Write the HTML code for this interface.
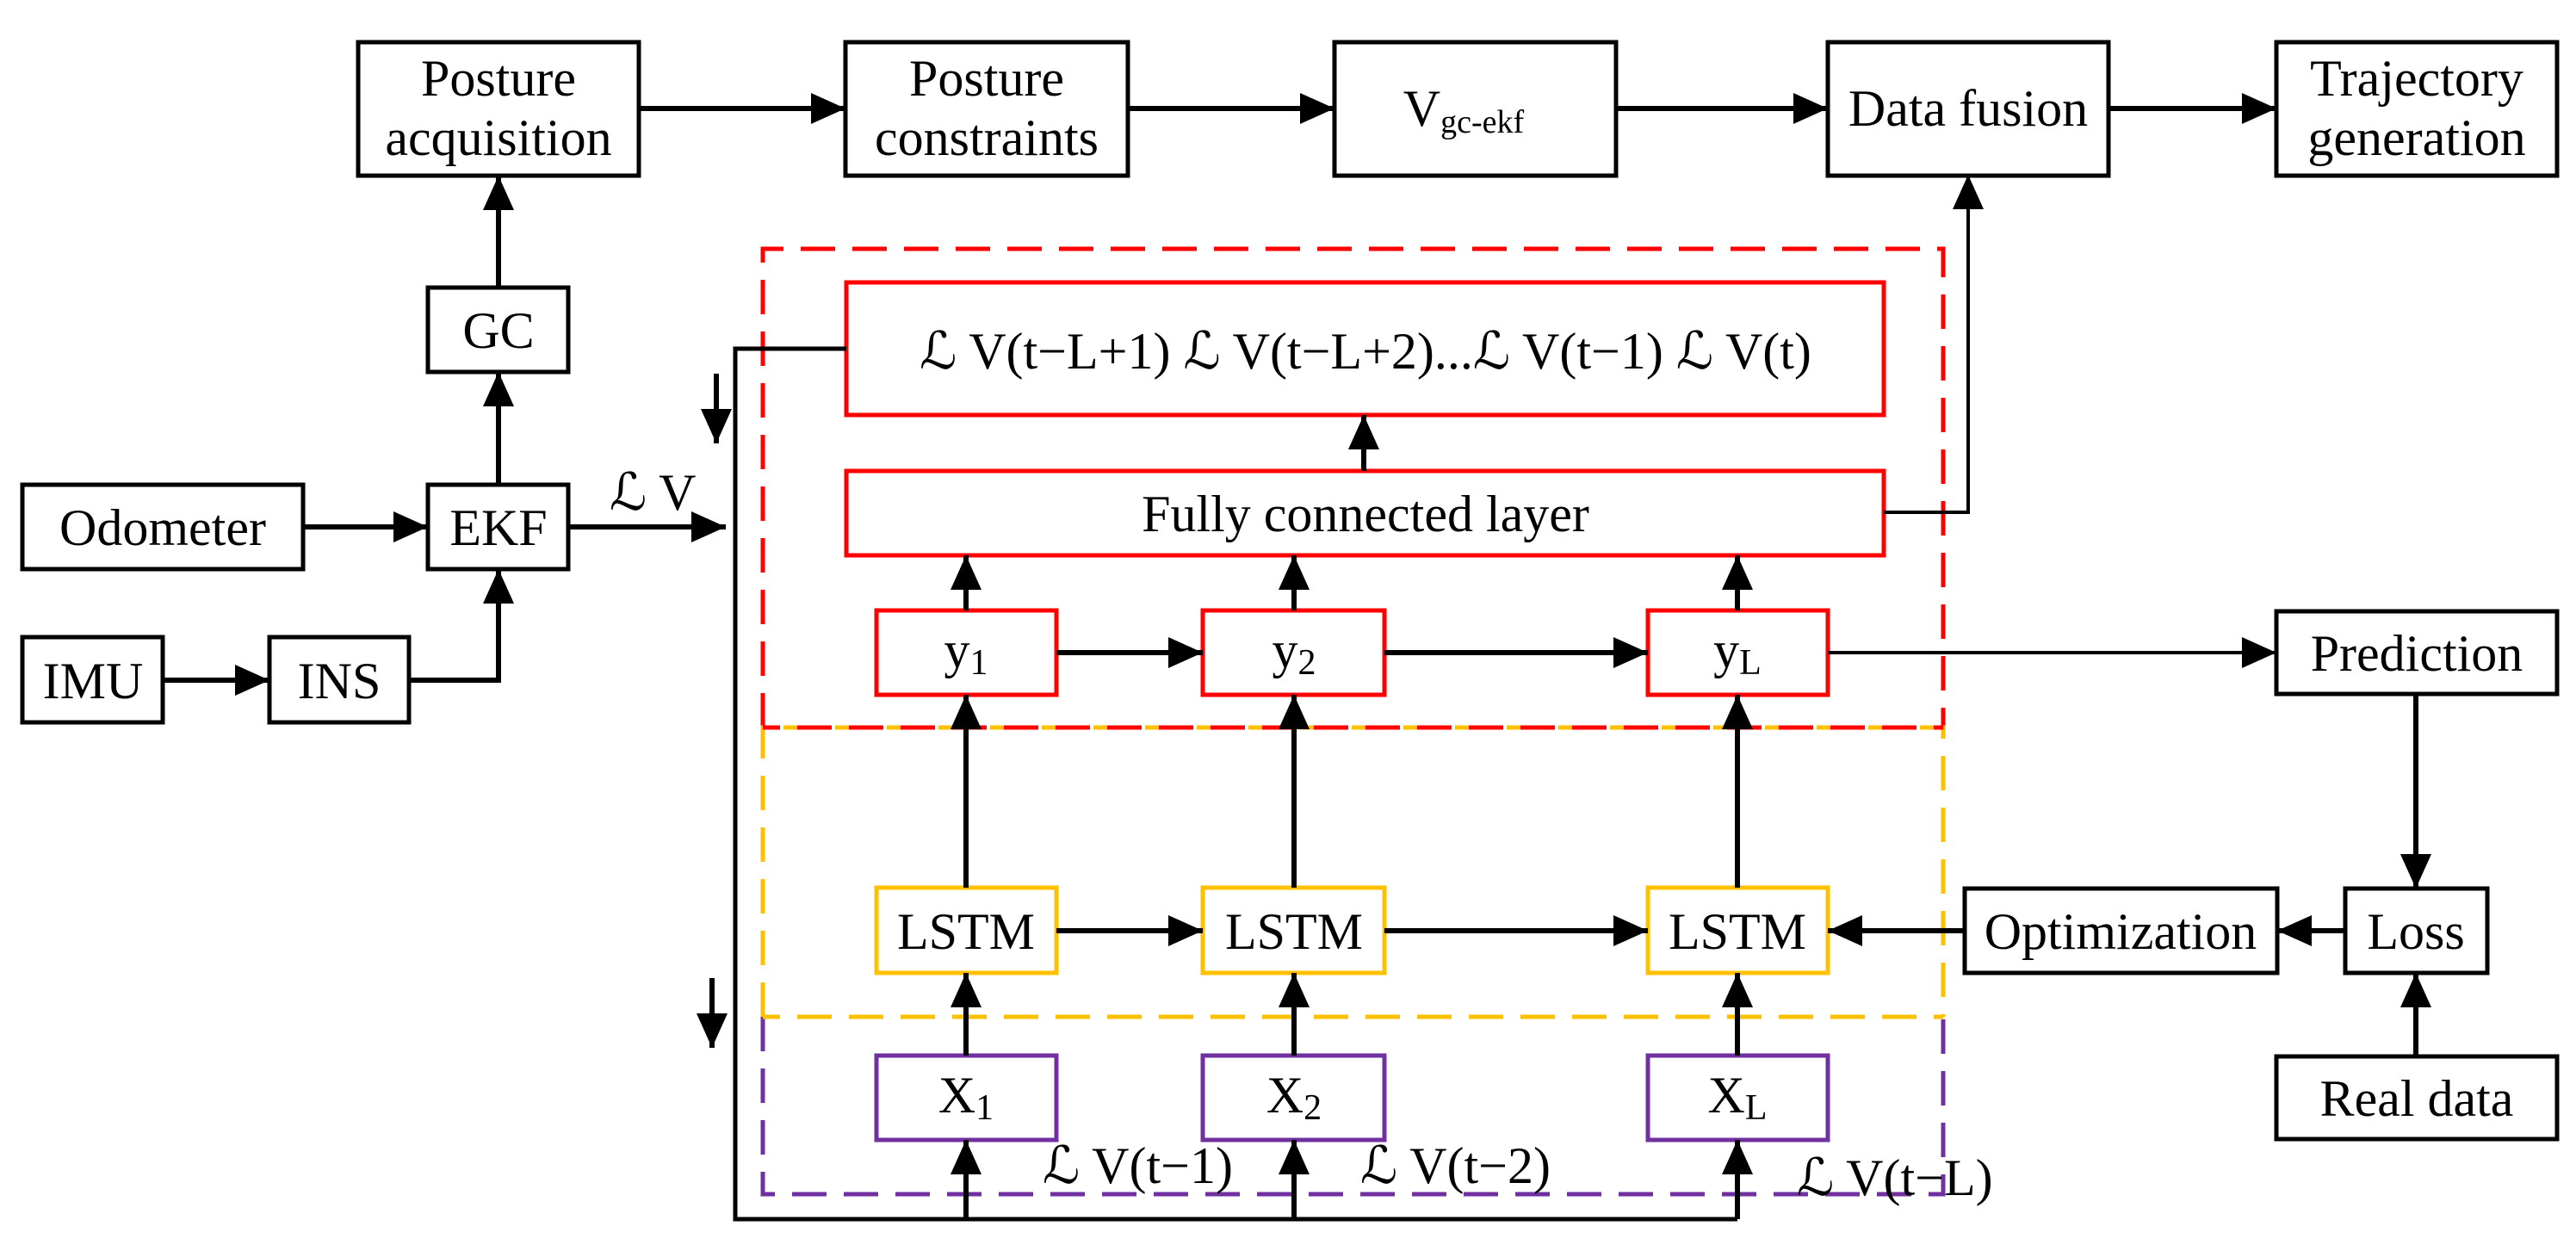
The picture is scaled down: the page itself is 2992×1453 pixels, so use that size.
<!DOCTYPE html>
<html><head><meta charset="utf-8"><style>
html,body{margin:0;padding:0;background:#fff;}
svg{display:block;}
text{font-family:"Liberation Serif","DejaVu Serif",serif;font-size:60px;fill:#000;}
</style></head><body>
<svg width="2992" height="1453" viewBox="0 0 2992 1453" xmlns="http://www.w3.org/2000/svg">
<defs>
<marker id="a" markerUnits="userSpaceOnUse" markerWidth="42" markerHeight="40" refX="40" refY="18" orient="auto">
<path d="M0,0 L40,18 L0,36 Z" fill="#000"/>
</marker>
</defs>
<g fill="none" stroke-linejoin="miter">
<g stroke-width="5" stroke-dasharray="40 20">
<path d="M886,845 L886,289 L2257,289 L2257,845" stroke="#ff0000"/>
<path d="M886,1181 L886,845 L2257,845 L2257,1181" stroke="#ffc000"/>
<path d="M886,1181 L886,1387 L2257,1387 L2257,1181" stroke="#7030a0"/>
<path d="M886,845 L2257,845" stroke="#ff0000" stroke-dashoffset="20"/>
<path d="M886,1181 L2257,1181" stroke="#ffc000" stroke-dashoffset="20"/>
</g>
<g stroke="#000" stroke-width="5">
<rect x="416" y="49" width="326" height="155"/>
<rect x="982" y="49" width="328" height="155"/>
<rect x="1550" y="49" width="327" height="155"/>
<rect x="2123" y="49" width="326" height="155"/>
<rect x="2644" y="49" width="326" height="155"/>
<rect x="497" y="334" width="163" height="98"/>
<rect x="497" y="563" width="163" height="98"/>
<rect x="26" y="563" width="326" height="98"/>
<rect x="26" y="740" width="163" height="99"/>
<rect x="313" y="740" width="162" height="99"/>
<rect x="2644" y="710" width="326" height="96"/>
<rect x="2724" y="1032" width="165" height="98"/>
<rect x="2282" y="1032" width="363" height="98"/>
<rect x="2644" y="1227" width="326" height="96"/>
</g>
<g stroke="#ff0000" stroke-width="5">
<rect x="983" y="328" width="1205" height="154"/>
<rect x="983" y="547" width="1205" height="98"/>
<rect x="1018" y="709" width="209" height="98"/>
<rect x="1397" y="709" width="211" height="98"/>
<rect x="1914" y="709" width="209" height="98"/>
</g>
<g stroke="#ffc000" stroke-width="5">
<rect x="1018" y="1031" width="209" height="99"/>
<rect x="1397" y="1031" width="211" height="99"/>
<rect x="1914" y="1031" width="209" height="99"/>
</g>
<g stroke="#7030a0" stroke-width="5">
<rect x="1018" y="1226" width="209" height="98"/>
<rect x="1397" y="1226" width="211" height="98"/>
<rect x="1914" y="1226" width="209" height="98"/>
</g>
<g stroke="#000" stroke-width="6" marker-end="url(#a)">
<line x1="742" y1="126" x2="982" y2="126"/>
<line x1="1310" y1="126" x2="1550" y2="126"/>
<line x1="1877" y1="126" x2="2123" y2="126"/>
<line x1="2449" y1="126" x2="2644" y2="126"/>
<line x1="579" y1="334" x2="579" y2="204"/>
<line x1="579" y1="563" x2="579" y2="432"/>
<line x1="352" y1="612" x2="497" y2="612"/>
<line x1="189" y1="790" x2="313" y2="790"/>
<line x1="662" y1="612" x2="843" y2="612"/>
<line x1="832" y1="434" x2="832" y2="515"/>
<line x1="827" y1="1136" x2="827" y2="1217"/>
<line x1="1584" y1="547" x2="1584" y2="482"/>
<line x1="1122" y1="709" x2="1122" y2="645"/>
<line x1="1503" y1="709" x2="1503" y2="645"/>
<line x1="2018" y1="709" x2="2018" y2="645"/>
<line x1="1227" y1="758" x2="1397" y2="758"/>
<line x1="1608" y1="758" x2="1914" y2="758"/>
<line x1="1122" y1="1031" x2="1122" y2="807"/>
<line x1="1503" y1="1031" x2="1503" y2="807"/>
<line x1="2018" y1="1031" x2="2018" y2="807"/>
<line x1="1227" y1="1081" x2="1397" y2="1081"/>
<line x1="1608" y1="1081" x2="1914" y2="1081"/>
<line x1="1122" y1="1226" x2="1122" y2="1130"/>
<line x1="1503" y1="1226" x2="1503" y2="1130"/>
<line x1="2018" y1="1226" x2="2018" y2="1130"/>
<line x1="1122" y1="1416" x2="1122" y2="1324"/>
<line x1="1503" y1="1416" x2="1503" y2="1324"/>
<line x1="2018" y1="1416" x2="2018" y2="1324"/>
<line x1="2282" y1="1081" x2="2123" y2="1081"/>
<line x1="2724" y1="1081" x2="2645" y2="1081"/>
<line x1="2806" y1="1227" x2="2806" y2="1130"/>
<line x1="2806" y1="806" x2="2806" y2="1032"/>
</g>
<g stroke="#000" stroke-width="4" marker-end="url(#a)">
<line x1="2123" y1="758" x2="2644" y2="758"/>
<polyline points="2188,595 2286,595 2286,203"/>
</g>
<polyline points="475,790 579,790 579,661" stroke="#000" stroke-width="6" marker-end="url(#a)"/>
<polyline points="983,405 854,405 854,1416 2018,1416" stroke="#000" stroke-width="5"/>
</g>
<g text-anchor="middle">
<text x="579" y="111">Posture</text>
<text x="579" y="180">acquisition</text>
<text x="1146" y="111">Posture</text>
<text x="1146" y="180">constraints</text>
<text x="1700" y="146">V<tspan font-size="38" dy="8">gc-ekf</tspan></text>
<text x="2286" y="146">Data fusion</text>
<text x="2807" y="111">Trajectory</text>
<text x="2807" y="180">generation</text>
<text x="579" y="404">GC</text>
<text x="579" y="633">EKF</text>
<text x="189" y="633">Odometer</text>
<text x="108" y="811">IMU</text>
<text x="394" y="811">INS</text>
<text x="1586" y="428">ℒ V(t−L+1) ℒ V(t−L+2)...ℒ V(t−1) ℒ V(t)</text>
<text x="1586" y="617">Fully connected layer</text>
<text x="1122" y="775">y<tspan font-size="42" dy="8">1</tspan></text>
<text x="1503" y="775">y<tspan font-size="42" dy="8">2</tspan></text>
<text x="2018" y="775">y<tspan font-size="42" dy="8">L</tspan></text>
<text x="1122" y="1102">LSTM</text>
<text x="1503" y="1102">LSTM</text>
<text x="2018" y="1102">LSTM</text>
<text x="1122" y="1292">X<tspan font-size="42" dy="8">1</tspan></text>
<text x="1503" y="1292">X<tspan font-size="42" dy="8">2</tspan></text>
<text x="2018" y="1292">X<tspan font-size="42" dy="8">L</tspan></text>
<text x="2807" y="779">Prediction</text>
<text x="2806" y="1102">Loss</text>
<text x="2463" y="1102">Optimization</text>
<text x="2807" y="1296">Real data</text>
</g>
<text x="708" y="592">ℒ V</text>
<text x="1211" y="1374">ℒ V(t−1)</text>
<text x="1580" y="1374">ℒ V(t−2)</text>
<text x="2087" y="1388">ℒ V(t−L)</text>
</svg>
</body></html>
